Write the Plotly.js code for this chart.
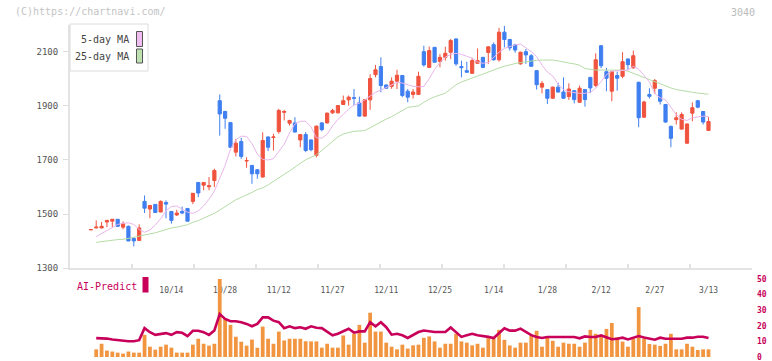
<!DOCTYPE html>
<html>
<head>
<meta charset="utf-8">
<script src="https://cdn.plot.ly/plotly-3.0.1.min.js"></script>
<style>html,body{margin:0;padding:0;background:#fff;}#chart{width:772px;height:361px;}</style>
</head>
<body>
<div id="chart"></div>
<script>
const dates = ["2025-09-19","2025-09-22","2025-09-24","2025-09-25","2025-09-26","2025-09-29","2025-09-30","2025-10-01","2025-10-02","2025-10-03","2025-10-06","2025-10-07","2025-10-08","2025-10-09","2025-10-10","2025-10-14","2025-10-15","2025-10-16","2025-10-17","2025-10-20","2025-10-21","2025-10-22","2025-10-23","2025-10-24","2025-10-27","2025-10-28","2025-10-29","2025-10-30","2025-10-31","2025-11-04","2025-11-05","2025-11-06","2025-11-07","2025-11-10","2025-11-11","2025-11-12","2025-11-13","2025-11-14","2025-11-17","2025-11-18","2025-11-19","2025-11-20","2025-11-21","2025-11-25","2025-11-26","2025-11-27","2025-11-28","2025-12-01","2025-12-02","2025-12-03","2025-12-04","2025-12-05","2025-12-08","2025-12-09","2025-12-10","2025-12-11","2025-12-12","2025-12-15","2025-12-16","2025-12-17","2025-12-18","2025-12-19","2025-12-22","2025-12-23","2025-12-24","2025-12-25","2025-12-26","2025-12-29","2025-12-30","2026-01-05","2026-01-06","2026-01-07","2026-01-08","2026-01-09","2026-01-13","2026-01-14","2026-01-15","2026-01-16","2026-01-19","2026-01-20","2026-01-21","2026-01-22","2026-01-23","2026-01-26","2026-01-27","2026-01-28","2026-01-29","2026-01-30","2026-02-02","2026-02-03","2026-02-04","2026-02-05","2026-02-06","2026-02-09","2026-02-10","2026-02-12","2026-02-13","2026-02-16","2026-02-17","2026-02-18","2026-02-19","2026-02-20","2026-02-24","2026-02-25","2026-02-26","2026-02-27","2026-03-02","2026-03-03","2026-03-04","2026-03-05","2026-03-06","2026-03-09","2026-03-10","2026-03-11","2026-03-12","2026-03-13"];

const tickDates = ["2025-10-14","2025-10-28","2025-11-12","2025-11-27","2025-12-11","2025-12-25","2026-01-14","2026-01-28","2026-02-12","2026-02-27","2026-03-13"];
const tickLabels = ["10/14","10/28","11/12","11/27","12/11","12/25","1/14","1/28","2/12","2/27","3/13"];

const priceTicks = [1300,1500,1700,1900,2100];
const volTicks = [0,10,20,30,40,50];

const open = [1442,1449,1449,1471,1474,1481,1452,1455,1410,1403,1547,1519,1536,1508,1543,1510,1497,1510,1521,1547,1617,1607,1601,1624,1919,1879,1838,1729,1768,1696,1680,1664,1637,1785,1783,1805,1876,1836,1837,1774,1794,1774,1717,1837,1837,1874,1874,1905,1922,1930,1911,1862,1922,2015,2045,1977,1972,1991,2012,1954,1942,1942,2100,2042,2116,2064,2079,2098,2147,2045,2030,2020,2057,2079,2097,2126,2070,2172,2145,2125,2055,2100,2085,2030,1969,1960,1928,1969,1951,1934,1956,1913,1960,2005,1975,2122,2026,1954,2012,2009,2073,2040,1987,1858,1942,1965,1960,1905,1824,1849,1814,1762,1873,1919,1879,1809];
const high = [1443,1477,1471,1478,1482,1482,1473,1458,1415,1462,1569,1534,1537,1551,1551,1511,1516,1528,1522,1578,1618,1618,1637,1668,1942,1882,1840,1778,1782,1710,1681,1666,1802,1787,1797,1889,1885,1848,1858,1796,1803,1776,1827,1840,1875,1889,1903,1938,1938,1962,1934,1925,2017,2051,2079,1979,2005,2033,2014,1962,1962,2026,2122,2119,2117,2091,2118,2147,2149,2067,2063,2077,2112,2081,2120,2134,2188,2195,2147,2129,2100,2110,2091,2032,1991,1962,1971,1985,2005,1983,1958,1975,1962,2007,2094,2124,2040,2030,2026,2098,2075,2104,1989,1919,1965,1999,1962,1907,1827,1876,1876,1835,1913,1921,1881,1858];
const low = [1442,1448,1448,1452,1452,1453,1444,1400,1381,1402,1504,1485,1505,1507,1485,1465,1493,1500,1473,1537,1563,1588,1588,1600,1790,1815,1745,1713,1704,1671,1612,1631,1635,1733,1735,1797,1846,1827,1802,1747,1729,1732,1710,1806,1835,1870,1872,1903,1901,1901,1860,1860,1885,2005,1950,1963,1963,1962,1932,1913,1927,1940,2045,2040,2060,2042,2067,2073,2048,2005,2023,2018,2055,2039,2055,2067,2063,2116,2104,2096,2052,2055,2045,1960,1946,1907,1926,1949,1926,1922,1909,1911,1897,1947,1969,2039,1954,1917,1956,2002,2033,2038,1821,1856,1927,1944,1905,1838,1747,1831,1812,1760,1843,1891,1831,1807];
const close = [1443,1452,1455,1477,1481,1455,1465,1401,1401,1449,1522,1532,1506,1547,1537,1477,1504,1504,1474,1577,1578,1617,1605,1661,1870,1854,1747,1762,1713,1698,1649,1649,1772,1747,1785,1883,1879,1846,1803,1794,1735,1738,1825,1812,1873,1883,1901,1919,1932,1928,1862,1923,2001,2033,1975,1965,1991,2013,1938,1932,1951,2009,2051,2104,2061,2079,2094,2141,2055,2041,2024,2067,2067,2042,2118,2070,2172,2145,2114,2106,2098,2088,2046,1978,1983,1928,1969,1951,1928,1962,1923,1965,1923,1966,2070,2048,2002,2026,2002,2063,2052,2085,1856,1914,1935,1993,1917,1840,1780,1856,1868,1833,1893,1895,1840,1842];

const ma5 = [null,1417,1428,1440,1452,1462,1466,1468,1462,1443,1433,1441,1460,1483,1512,1528,1530,1518,1507,1503,1512,1530,1555,1585,1630,1680,1740,1775,1788,1787,1760,1722,1702,1700,1705,1730,1758,1800,1833,1843,1843,1822,1782,1781,1795,1826,1850,1868,1888,1903,1910,1922,1935,1950,1958,1968,1980,1987,1984,1977,1972,1970,1972,2000,2035,2060,2080,2090,2094,2090,2082,2076,2062,2057,2060,2078,2098,2112,2120,2125,2128,2115,2100,2082,2050,2025,2010,1980,1960,1952,1948,1946,1946,1950,1965,1990,2015,2028,2030,2030,2032,2046,2035,2012,1988,1945,1930,1922,1895,1868,1850,1846,1856,1860,1862,1860];
const ma25 = [null,1396,1399,1402,1405,1406,1407,1410,1414,1419,1422,1427,1431,1437,1443,1449,1452,1456,1461,1470,1476,1485,1493,1503,1515,1528,1543,1553,1562,1570,1580,1591,1597,1608,1620,1633,1647,1660,1673,1687,1701,1710,1719,1735,1751,1768,1785,1796,1801,1806,1807,1809,1819,1830,1842,1851,1860,1872,1885,1894,1897,1900,1913,1925,1933,1940,1947,1962,1978,1988,1996,2003,2010,2017,2025,2033,2040,2046,2052,2056,2060,2063,2066,2068,2069,2069,2069,2066,2061,2058,2055,2050,2038,2034,2032,2032,2032,2032,2032,2032,2028,2020,2011,2005,1998,1989,1980,1972,1966,1960,1956,1953,1950,1947,1944,1943];

const volume = [null,4.9,8.5,4.1,3.5,2.8,2.2,3.5,2.8,2.8,14.2,6.6,4.7,6.6,7.9,6.0,2.8,2.8,2.8,7.9,11.7,8.5,7.3,8.5,50,24.4,20.6,13,9.8,7.3,11.2,5.9,19.5,11.7,8.5,16.3,10.6,11.7,11.7,11.7,10.1,10,10,6,8.5,6,6,13.8,7.9,14.9,20.6,9.2,28.4,16.3,16.3,9.2,6.6,4.9,7.9,5.4,7.5,7.9,12.3,13.2,10,6,8.5,8.5,14.9,10,9.2,7.5,8.5,6,12.1,12.1,17.4,11,7.4,6.0,9.2,9.2,13.8,16.8,6.6,12.8,10.4,6.6,9.2,8.5,8.5,6.6,9.2,17.4,14.9,13.8,18.0,21.8,12.8,9.9,6.6,11.7,32,11.7,8.3,7.9,7.1,8.5,14.9,4.9,4.9,8.5,6.6,4.5,4.9,4.9];
const aiPredict = [null,12.1,12.1,11.8,11.2,10.8,10.1,10.1,10.1,10.8,18.5,15.9,14.2,14.9,15.3,14.2,15.9,15.5,13.4,16.8,16.8,15.9,14.2,17.0,27.5,24.4,22.9,22.9,22.3,21.2,19.7,21.2,25.4,25.4,23.3,22.3,18.5,19.7,18.5,19.1,18.1,19.7,18.7,18.5,16.0,13.9,14.9,16.4,18.1,15.6,16.4,16.4,22.3,19.7,22.3,19.1,14.3,14.9,13.9,12.2,13.9,16.0,17.0,16.4,16.0,16.0,16.0,18.9,15.6,12.9,13.9,14.9,13.9,13.5,12.9,12.2,15.5,18.4,16.9,16.9,18.2,15.9,14.0,12.8,12.2,12.8,12.8,12.4,12.8,12.8,12.8,12.0,13.2,12.8,12.8,13.8,12.6,11.4,11.7,12.4,11.3,12.5,13.4,12.5,11.7,11.1,12.4,11.7,11.7,11.7,11.7,12.4,12.4,13.0,13.0,12.2];

const RED = '#f0533e', BLUE = '#3f7ff0', ORANGE = '#f29540', CRIMSON = '#c8005a';
const PINK = '#e9b6ea', GREEN = '#b5dca5';
const FONT = 'DejaVu Sans Mono, Liberation Mono, monospace';

const traces = [
  {type:'bar', x:dates, y:volume, xaxis:'x', yaxis:'y2', marker:{color:ORANGE, line:{width:0}}, hoverinfo:'skip', showlegend:false},
  {type:'scatter', mode:'lines', x:dates, y:aiPredict, xaxis:'x', yaxis:'y2', line:{color:CRIMSON, width:2.6}, hoverinfo:'skip', showlegend:false},
  {type:'candlestick', x:dates, open:open, high:high, low:low, close:close, xaxis:'x', yaxis:'y',
    increasing:{line:{color:RED, width:1}, fillcolor:RED},
    decreasing:{line:{color:BLUE, width:1}, fillcolor:BLUE},
    whiskerwidth:0, hoverinfo:'skip', showlegend:false},
  {type:'scatter', mode:'lines', x:dates, y:ma25, xaxis:'x', yaxis:'y', line:{color:GREEN, width:1}, hoverinfo:'skip', showlegend:false},
  {type:'scatter', mode:'lines', x:dates, y:ma5, xaxis:'x', yaxis:'y', line:{color:PINK, width:1}, hoverinfo:'skip', showlegend:false},
  {type:'scatter', mode:'lines', x:[null], y:[null], xaxis:'x3', yaxis:'y', hoverinfo:'skip', showlegend:false}
];

const PX = p => (p - 70) / 682;
const PY = p => (357 - p) / 332;

const layout = {
  width:772, height:361,
  margin:{l:70, r:20, t:25, b:4, pad:0},
  paper_bgcolor:'#ffffff', plot_bgcolor:'#ffffff',
  font:{family:FONT, size:9, color:'#555'},
  showlegend:false,
  boxgap:0.15, bargap:0.3,
  xaxis:{type:'category', domain:[0,1], anchor:'y', range:[-3.88,123.1], autorange:false,
    rangeslider:{visible:false}, showgrid:false, zeroline:false,
    showline:true, linecolor:'#e3e3e3', linewidth:2,
    tickmode:'array', tickvals:tickDates, ticktext:tickLabels, ticks:'',
    ticklabelstandoff:13, tickfont:{family:FONT, size:8, color:'#555'}},
  xaxis3:{overlaying:'x', anchor:'y', range:[0,11], autorange:false, showgrid:false, zeroline:false,
    showline:false, tickmode:'array', tickvals:[0,1,2,3,4,5,6,7,8,9,10,11], ticks:'inside', ticklen:4,
    tickwidth:2, tickcolor:'#e3e3e3', showticklabels:false},
  yaxis:{domain:[0.2672,1], anchor:'x', range:[1300,2198.5], autorange:false,
    showgrid:false, zeroline:false, showline:true, linecolor:'#e3e3e3', linewidth:2,
    tickmode:'array', tickvals:priceTicks, ticks:'outside', ticklen:5, tickwidth:1, tickcolor:'#dddddd',
    ticklabelstandoff:3, tickfont:{family:FONT, size:9, color:'#555'}},
  yaxis2:{domain:[0,0.2349], anchor:'x', side:'right', range:[0,50], autorange:false,
    showgrid:false, zeroline:false, showline:false,
    tickmode:'array', tickvals:volTicks, ticks:'', ticklabelstandoff:4, ticklabelshift:2.5, ticklabeloverflow:'allow',
    tickfont:{family:FONT, size:8, color:CRIMSON, weight:'bold'}},
  shapes:[
    {type:'rect', xref:'paper', yref:'paper', x0:PX(70), x1:PX(148), y0:PY(71), y1:PY(24), fillcolor:'#ffffff', line:{color:'#dcdcdc', width:1}, layer:'above'},
    {type:'rect', xref:'paper', yref:'paper', x0:PX(136.5), x1:PX(142.5), y0:PY(46.5), y1:PY(31.5), fillcolor:'#efbdef', line:{color:'#555', width:1}, layer:'above'},
    {type:'rect', xref:'paper', yref:'paper', x0:PX(136.5), x1:PX(142.5), y0:PY(63), y1:PY(49), fillcolor:'#bfe0b0', line:{color:'#555', width:1}, layer:'above'},
    {type:'rect', xref:'paper', yref:'paper', x0:PX(142.5), x1:PX(148.5), y0:PY(292.5), y1:PY(277), fillcolor:CRIMSON, line:{width:0}, layer:'above'}
  ],
  annotations:[
    {xref:'paper', yref:'paper', x:PX(131), y:PY(39.5), xanchor:'right', yanchor:'middle', text:'5-day MA', showarrow:false, font:{family:FONT, size:10, color:'#444'}},
    {xref:'paper', yref:'paper', x:PX(131), y:PY(56.5), xanchor:'right', yanchor:'middle', text:'25-day MA', showarrow:false, font:{family:FONT, size:10, color:'#444'}},
    {xref:'paper', yref:'paper', x:PX(75), y:PY(286), xanchor:'left', yanchor:'middle', text:'AI-Predict', showarrow:false, font:{family:FONT, size:10, color:CRIMSON}},
    {xref:'paper', yref:'paper', x:PX(13), y:PY(12), xanchor:'left', yanchor:'middle', text:'(C)https://chartnavi.com/', showarrow:false, font:{family:FONT, size:10, color:'#c4c4c4'}},
    {xref:'paper', yref:'paper', x:PX(757), y:PY(12.5), xanchor:'right', yanchor:'middle', text:'3040', showarrow:false, font:{family:FONT, size:10, color:'#bbbbbb'}}
  ]
};

Plotly.newPlot('chart', traces, layout, {staticPlot:true, displayModeBar:false});
</script>
</body>
</html>
